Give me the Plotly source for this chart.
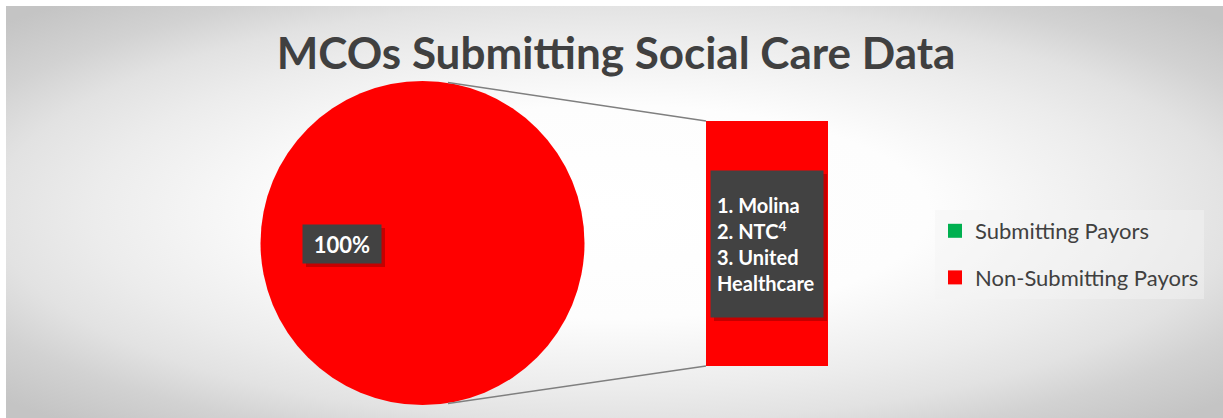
import math
import plotly.graph_objects as go

# ---------------- data ----------------
categories = ["Submitting Payors", "Non-Submitting Payors"]
pie_values = [0, 100]
slice_colors = ["#00B050", "#FF0000"]
bar_category = ["Non-Submitting Payors"]
bar_values = [100]
pie_label = "100%"
bar_label_lines = ["1. Molina", "2. NTC<sup>4</sup>", "3. United", "Healthcare"]
title_text = "MCOs Submitting Social Care Data"

# ---------------- layout geometry (pixels) ----------------
W, H = 1223, 418
FONT = "Lato"
TEXT_COL = "#404040"


def px(x):
    return x / W


def py(y):
    return 1 - y / H


chart_left, chart_top = 6, 6
pie_box = (260, 81, 585, 405)      # left, top, right, bottom
bar_box = (706, 121, 828, 366)

fig = go.Figure()

# background panel with radial gradient
ext = 0.18
fig.add_trace(go.Scatter(
    x=[-ext, 1 + ext, 1 + ext, -ext, -ext],
    y=[-ext, -ext, 1 + ext, 1 + ext, -ext],
    mode="lines", fill="toself", line=dict(width=0),
    fillgradient=dict(type="radial",
                      colorscale=[[0, "#ffffff"], [0.38, "#fdfdfd"],
                                  [0.63, "#ececec"], [0.75, "#e2e2e2"],
                                  [0.86, "#d2d2d2"], [1, "#c4c4c4"]]),
    hoverinfo="skip", showlegend=False, xaxis="x", yaxis="y",
))

# legend entries
for name, col in zip(categories, slice_colors):
    fig.add_trace(go.Scatter(
        x=[None], y=[None], mode="markers", name=name, legendgroup=name,
        marker=dict(symbol="square", size=14, color=col),
        xaxis="x", yaxis="y",
    ))

# pie of the payors
fig.add_trace(go.Pie(
    labels=categories, values=pie_values, marker=dict(colors=slice_colors),
    sort=False, direction="clockwise", textinfo="none", textposition="none",
    domain=dict(x=[px(pie_box[0]), px(pie_box[2])], y=[py(pie_box[3]), py(pie_box[1])]),
    showlegend=False, hoverinfo="label+percent",
))

# bar of the non-submitting part
fig.add_trace(go.Bar(
    x=bar_category, y=bar_values, width=1, marker=dict(color="#FF0000", line=dict(width=0)),
    xaxis="x2", yaxis="y2", showlegend=False,
))

# connector lines
cx = (pie_box[0] + pie_box[2]) / 2
cy = (pie_box[1] + pie_box[3]) / 2
R = (pie_box[2] - pie_box[0]) / 2
ang = math.radians(81)
shapes = []
for sgn, by in ((-1, bar_box[1]), (1, bar_box[3])):
    x0 = cx + R * math.cos(ang)
    y0 = cy + sgn * R * math.sin(ang)
    shapes.append(dict(type="line", xref="paper", yref="paper",
                       x0=px(x0), y0=py(y0), x1=px(bar_box[0]), y1=py(by),
                       line=dict(color="#7f7f7f", width=1.5), layer="above"))

# label shadows
for (l, t, r, b) in ((303, 225, 381, 263), (711, 171, 823, 317)):
    shapes.append(dict(type="rect", xref="paper", yref="paper",
                       x0=px(l + 3), x1=px(r + 4), y0=py(b + 4), y1=py(t + 3),
                       fillcolor="rgba(90,0,0,0.35)", line=dict(width=0), layer="above"))

annotations = [
    dict(text="<b>%s</b>" % pie_label, x=px(342), y=py(244), xref="paper", yref="paper",
         showarrow=False, xanchor="center", yanchor="middle",
         font=dict(family=FONT, size=22, color="white"),
         bgcolor="#424242", width=70, height=30, borderpad=4),
    dict(text="<br>".join("<b>%s</b>" % s for s in bar_label_lines),
         x=px(767), y=py(244), xref="paper", yref="paper",
         showarrow=False, xanchor="center", yanchor="middle", align="left",
         font=dict(family=FONT, size=20, color="white"),
         bgcolor="#424242", width=100, height=134, borderpad=6),
]

fig.update_layout(
    width=W, height=H,
    margin=dict(l=0, r=0, t=0, b=0),
    paper_bgcolor="white", plot_bgcolor="rgba(0,0,0,0)",
    title=dict(text="<b>%s</b>" % title_text, x=px(616), xanchor="center",
               y=py(54), yanchor="middle", xref="paper", yref="container",
               font=dict(family=FONT, size=44, color=TEXT_COL)),
    xaxis=dict(domain=[px(chart_left), 1], range=[0, 1], visible=False, fixedrange=True),
    yaxis=dict(domain=[0, py(chart_top)], range=[0, 1], visible=False, fixedrange=True),
    xaxis2=dict(domain=[px(bar_box[0]), px(bar_box[2])], range=[-0.5, 0.5], visible=False,
                anchor="y2", type="category", fixedrange=True),
    yaxis2=dict(domain=[py(bar_box[3]), py(bar_box[1])], range=[0, max(bar_values)],
                visible=False, anchor="x2", fixedrange=True),
    legend=dict(x=px(935), y=py(210), xanchor="left", yanchor="top",
                bgcolor="rgba(245,245,245,0.45)", font=dict(family=FONT, size=22, color=TEXT_COL),
                tracegroupgap=15, itemclick=False),
    shapes=shapes, annotations=annotations, showlegend=True,
)

fig.write_html("out.html")
